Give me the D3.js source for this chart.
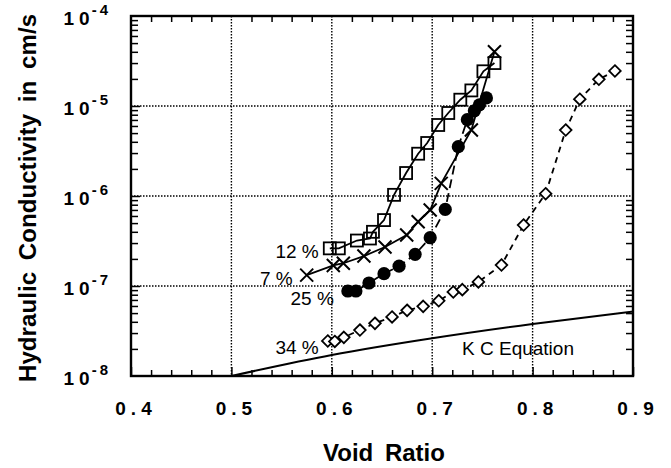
<!DOCTYPE html>
<html>
<head>
<meta charset="utf-8">
<script src="https://cdn.jsdelivr.net/npm/d3@7/dist/d3.min.js"></script>
<style>
  body { margin: 0; background: #fff; }
  svg { display: block; font-family: "Liberation Sans", Arial, Helvetica, sans-serif; }
</style>
</head>
<body>
<svg width="671" height="468"></svg>
<script>
// tick labels
var xTickVals = [0.4, 0.5, 0.6, 0.7, 0.8, 0.9];
var yExponents = [-4, -5, -6, -7, -8];

// 12 % (open squares)
var sqVoid = [0.598, 0.607, 0.625, 0.638, 0.641, 0.652, 0.662, 0.674, 0.686, 0.695, 0.706, 0.716, 0.728, 0.739, 0.751, 0.762];
var sqK    = [2.62e-7, 2.62e-7, 3.2e-7, 3.37e-7, 4.0e-7, 5.4e-7, 1.03e-6, 1.8e-6, 2.95e-6, 3.88e-6, 6.15e-6, 8.36e-6, 1.175e-5, 1.49e-5, 2.43e-5, 3.0e-5];

// 7 % (crosses)
var crVoid = [0.575, 0.6015, 0.6115, 0.632, 0.653, 0.6746, 0.686, 0.698, 0.709, 0.739, 0.762];
var crK    = [1.32e-7, 1.69e-7, 1.79e-7, 2.15e-7, 2.71e-7, 3.69e-7, 5.18e-7, 6.99e-7, 1.38e-6, 5.41e-6, 4.01e-5];

// 25 % (filled circles)
var dotVoid = [0.616, 0.624, 0.637, 0.652, 0.667, 0.683, 0.698, 0.713, 0.726, 0.735, 0.742, 0.747, 0.754];
var dotK    = [8.8e-8, 8.8e-8, 1.08e-7, 1.37e-7, 1.66e-7, 2.25e-7, 3.44e-7, 7.1e-7, 3.53e-6, 7.05e-6, 8.85e-6, 1.03e-5, 1.23e-5];

// 34 % (open diamonds)
var diaVoid = [0.596, 0.603, 0.612, 0.628, 0.643, 0.660, 0.675, 0.691, 0.7065, 0.721, 0.730, 0.746, 0.769, 0.791, 0.813, 0.833, 0.847, 0.866, 0.882];
var diaK    = [2.45e-8, 2.42e-8, 2.69e-8, 3.24e-8, 3.85e-8, 4.53e-8, 5.37e-8, 5.94e-8, 6.85e-8, 8.58e-8, 9.1e-8, 1.11e-7, 1.71e-7, 4.76e-7, 1.06e-6, 5.41e-6, 1.19e-5, 1.98e-5, 2.45e-5];

// K C equation curve
var kcVoid = [0.5, 0.6, 0.7, 0.8, 0.9];
var kcK    = [1.0e-8, 1.71e-8, 2.62e-8, 3.78e-8, 5.2e-8];

// curve labels, anchored in data space
var labelText = ["12 %", "7 %", "25 %", "34 %", "K C Equation"];
var labelVoid = [0.587, 0.561, 0.602, 0.587, 0.7297];
var labelK    = [2.47e-7, 1.24e-7, 7.36e-8, 2.12e-8, 2.03e-8];
var labelEnd  = [true, true, true, true, false];

var plotLeft = 131, plotRight = 633, plotTop = 16, plotBottom = 376;

var svg = d3.select("svg");

var x = d3.scaleLinear().domain([0.4, 0.9]).range([plotLeft, plotRight]);
var y = d3.scaleLog().domain([1e-8, 1e-4]).range([plotBottom, plotTop]);

// grid (dotted)
svg.append("g")
  .selectAll("line")
  .data([0.5, 0.6, 0.7, 0.8])
  .enter().append("line")
  .attr("x1", function(d) { return x(d); })
  .attr("x2", function(d) { return x(d); })
  .attr("y1", plotTop).attr("y2", plotBottom)
  .style("stroke", "#000").style("stroke-width", 1.4)
  .style("stroke-dasharray", "1.5,1.5");

svg.append("g")
  .selectAll("line")
  .data([1e-5, 1e-6, 1e-7])
  .enter().append("line")
  .attr("y1", function(d) { return y(d); })
  .attr("y2", function(d) { return y(d); })
  .attr("x1", plotLeft).attr("x2", plotRight)
  .style("stroke", "#000").style("stroke-width", 1.4)
  .style("stroke-dasharray", "1.5,1.5");

// minor ticks
var xMinor = d3.range(0.42, 0.9, 0.02).filter(function(v) { return Math.abs(v * 10 - Math.round(v * 10)) > 0.01; });
var yMinor = [];
[-8, -7, -6, -5].forEach(function(e) {
  for (var m = 2; m <= 9; m++) yMinor.push(m * Math.pow(10, e));
});

function styleAxis(g) {
  g.select(".domain").remove();
  g.selectAll("line").style("stroke", "#000").style("stroke-width", 1.5);
  g.selectAll("text").remove();
}

svg.append("g").attr("transform", "translate(0," + plotBottom + ")")
  .call(d3.axisBottom(x).tickValues(xMinor).tickSize(-6)).call(styleAxis);
svg.append("g").attr("transform", "translate(0," + plotTop + ")")
  .call(d3.axisTop(x).tickValues(xMinor).tickSize(-6)).call(styleAxis);
svg.append("g").attr("transform", "translate(0," + plotBottom + ")")
  .call(d3.axisBottom(x).tickValues(xTickVals).tickSize(-9)).call(styleAxis);
svg.append("g").attr("transform", "translate(" + plotLeft + ",0)")
  .call(d3.axisLeft(y).tickValues(yMinor).tickSize(-7)).call(styleAxis);
svg.append("g").attr("transform", "translate(" + plotRight + ",0)")
  .call(d3.axisRight(y).tickValues(yMinor).tickSize(-7)).call(styleAxis);
svg.append("g").attr("transform", "translate(" + plotLeft + ",0)")
  .call(d3.axisLeft(y).tickValues([1e-7, 1e-6, 1e-5]).tickSize(-9)).call(styleAxis);

// frame
svg.append("rect")
  .attr("x", plotLeft).attr("y", plotTop)
  .attr("width", plotRight - plotLeft).attr("height", plotBottom - plotTop)
  .style("fill", "none").style("stroke", "#000").style("stroke-width", 2.4);

// series lines
function pts(vs, ks) {
  return vs.map(function(v, i) { return [v, ks[i]]; });
}
var line = d3.line()
  .x(function(d) { return x(d[0]); })
  .y(function(d) { return y(d[1]); });

svg.append("path").datum(pts(kcVoid, kcK)).attr("d", line.curve(d3.curveMonotoneX))
  .style("fill", "none").style("stroke", "#000").style("stroke-width", 2);
line.curve(d3.curveLinear);

svg.append("path").datum(pts(sqVoid, sqK)).attr("d", line)
  .style("fill", "none").style("stroke", "#000").style("stroke-width", 1.8);
svg.append("path").datum(pts(crVoid, crK)).attr("d", line)
  .style("fill", "none").style("stroke", "#000").style("stroke-width", 1.8);
svg.append("path").datum(pts(dotVoid, dotK)).attr("d", line)
  .style("fill", "none").style("stroke", "#000").style("stroke-width", 1.8)
  .style("stroke-dasharray", "9,5");
svg.append("path").datum(pts(diaVoid, diaK)).attr("d", line)
  .style("fill", "none").style("stroke", "#000").style("stroke-width", 1.8)
  .style("stroke-dasharray", "6,5");

// markers
svg.append("g").selectAll("rect")
  .data(pts(sqVoid, sqK)).enter().append("rect")
  .attr("x", function(d) { return x(d[0]) - 6; })
  .attr("y", function(d) { return y(d[1]) - 6; })
  .attr("width", 12).attr("height", 12)
  .style("fill", "none").style("stroke", "#000").style("stroke-width", 1.8);

svg.append("g").selectAll("path")
  .data(pts(crVoid, crK)).enter().append("path")
  .attr("d", function(d) {
    var cx = x(d[0]), cy = y(d[1]), s = 6.5;
    return "M" + (cx - s) + "," + (cy - s) + "L" + (cx + s) + "," + (cy + s) +
           "M" + (cx - s) + "," + (cy + s) + "L" + (cx + s) + "," + (cy - s);
  })
  .style("stroke", "#000").style("stroke-width", 2);

svg.append("g").selectAll("circle")
  .data(pts(dotVoid, dotK)).enter().append("circle")
  .attr("cx", function(d) { return x(d[0]); })
  .attr("cy", function(d) { return y(d[1]); })
  .attr("r", 6.6)
  .style("fill", "#000");

svg.append("g").selectAll("path")
  .data(pts(diaVoid, diaK)).enter().append("path")
  .attr("d", function(d) {
    var cx = x(d[0]), cy = y(d[1]), s = 5.8;
    return "M" + cx + "," + (cy - s) + "L" + (cx + s) + "," + cy +
           "L" + cx + "," + (cy + s) + "L" + (cx - s) + "," + cy + "Z";
  })
  .style("fill", "#fff").style("stroke", "#000").style("stroke-width", 1.8);

// curve labels
svg.append("g").selectAll("text")
  .data(labelText).enter().append("text")
  .attr("x", function(d, i) { return x(labelVoid[i]); })
  .attr("y", function(d, i) { return y(labelK[i]) + 7; })
  .attr("text-anchor", function(d, i) { return labelEnd[i] ? "end" : "start"; })
  .style("font-size", "19px")
  .text(function(d) { return d; });

// x tick labels
svg.append("g").selectAll("text")
  .data(xTickVals).enter().append("text")
  .attr("x", function(d) { return x(d) + 5; })
  .attr("y", 415)
  .attr("text-anchor", "middle")
  .style("font-size", "19px").style("font-weight", "bold")
  .style("letter-spacing", "5px")
  .text(function(d) { return d.toFixed(1); });

// y tick labels: 10 with superscript exponent
var yl = svg.append("g").selectAll("text")
  .data(yExponents).enter().append("text")
  .attr("x", 111)
  .attr("y", function(d) { return y(Math.pow(10, d)) + 9; })
  .attr("text-anchor", "end")
  .style("font-weight", "bold");
yl.append("tspan").style("font-size", "19px").style("letter-spacing", "5px").text("10");
yl.append("tspan").attr("dy", -10).attr("dx", -3).style("font-size", "15px").style("letter-spacing", "3px")
  .text(function(d) { return d; });

// axis titles
svg.append("text")
  .attr("x", 384).attr("y", 461)
  .attr("text-anchor", "middle")
  .style("font-size", "24px").style("font-weight", "bold")
  .style("word-spacing", "5px")
  .text("Void Ratio");

svg.append("text")
  .attr("transform", "translate(36,198) rotate(-90)")
  .attr("text-anchor", "middle")
  .style("font-size", "24px").style("font-weight", "bold")
  .style("word-spacing", "5px")
  .attr("textLength", 368)
  .text("Hydraulic Conductivity in cm/s");
</script>
</body>
</html>
